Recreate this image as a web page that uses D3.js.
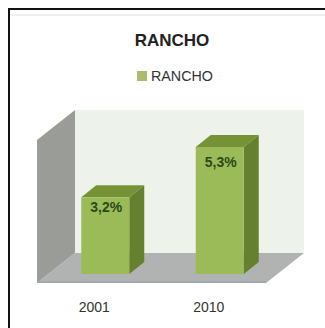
<!DOCTYPE html>
<html>
<head>
<meta charset="utf-8">
<script src="https://cdnjs.cloudflare.com/ajax/libs/d3/7.8.5/d3.min.js"></script>
<style>
  html, body { margin: 0; padding: 0; background: #fff; }
  svg { display: block; }
  text { font-family: "Liberation Sans", sans-serif; }
</style>
</head>
<body>
<svg id="chart" width="325" height="328"></svg>
<script>
const categories = ["2001", "2010"];
const values = [3.2, 5.3];
const valueLabels = ["3,2%", "5,3%"];
const seriesName = "RANCHO";
const chartTitle = "RANCHO";

const svg = d3.select("#chart");

// Chart frame: only the top and left rules are visible
svg.append("rect").attr("x", 0).attr("y", 0).attr("width", 325).attr("height", 328).attr("fill", "#fff");
svg.append("rect").attr("x", 8).attr("y", 8).attr("width", 317).attr("height", 2).attr("fill", "#111");
svg.append("rect").attr("x", 8).attr("y", 8).attr("width", 2).attr("height", 320).attr("fill", "#111");
svg.append("rect").attr("x", 10).attr("y", 14).attr("width", 315).attr("height", 2).attr("fill", "#eeeeee");

// 3D box layout
const floorFrontY = 283, floorBackY = 253, wallTopY = 110;
const depthX = 38, depthY = 30;
const barDepthX = 15, barDepthY = 12;
const barWidth = 48;
const barShift = 11;
const barBaseY = 274;
const labelDrop = [15, 20];

const x = d3.scaleBand().domain(categories).range([37, 266]);
const y = d3.scaleLinear().domain([0, 5.3]).range([barBaseY, 147]);

const poly = pts => pts.map(p => p.join(",")).join(" ");
const leftX = x.range()[0], rightX = x.range()[1];

// Back wall
svg.append("polygon")
  .attr("points", poly([[leftX + depthX, wallTopY], [rightX + depthX, wallTopY], [rightX + depthX, floorBackY], [leftX + depthX, floorBackY]]))
  .attr("fill", "#edf2ea");

// Side wall
svg.append("polygon")
  .attr("points", poly([[leftX, wallTopY + depthY], [leftX + depthX, wallTopY], [leftX + depthX, floorBackY], [leftX, floorFrontY]]))
  .attr("fill", "#9a9d97");

// Floor
svg.append("polygon")
  .attr("points", poly([[leftX + depthX, floorBackY], [rightX + depthX, floorBackY], [rightX, floorFrontY], [leftX, floorFrontY]]))
  .attr("fill", "#b0b3b1");
svg.append("rect")
  .attr("x", leftX).attr("y", floorFrontY - 2)
  .attr("width", rightX - leftX).attr("height", 2)
  .attr("fill", "#a3a8ad");

// Bars: front, side and top faces
const bars = svg.selectAll("g.bar")
  .data(categories.map((c, i) => ({ c, v: values[i], label: valueLabels[i], drop: labelDrop[i] })))
  .join("g").attr("class", "bar");
const frontX = d => x(d.c) + x.bandwidth() / 2 + barShift - barWidth / 2;

bars.append("polygon")
  .attr("points", d => poly([
    [frontX(d) + barWidth, y(d.v)],
    [frontX(d) + barWidth + barDepthX, y(d.v) - barDepthY],
    [frontX(d) + barWidth + barDepthX, barBaseY - barDepthY],
    [frontX(d) + barWidth, barBaseY]]))
  .attr("fill", "#65802f");
bars.append("polygon")
  .attr("points", d => poly([
    [frontX(d), y(d.v)],
    [frontX(d) + barDepthX, y(d.v) - barDepthY],
    [frontX(d) + barWidth + barDepthX, y(d.v) - barDepthY],
    [frontX(d) + barWidth, y(d.v)]]))
  .attr("fill", "#769235");
bars.append("rect")
  .attr("x", frontX).attr("y", d => y(d.v))
  .attr("width", barWidth).attr("height", d => barBaseY - y(d.v))
  .attr("fill", "#9bbb59");

bars.append("text")
  .attr("x", d => frontX(d) + barWidth / 2 + 1)
  .attr("y", d => y(d.v) + d.drop)
  .attr("text-anchor", "middle")
  .attr("font-size", 14).attr("font-weight", "bold")
  .attr("fill", "#2c4a17")
  .text(d => d.label);

// Category axis along the front edge of the floor
const axis = d3.axisBottom(x).tickSize(0).tickPadding(0);
const axisG = svg.append("g").attr("transform", "translate(0,302)").call(axis);
axisG.select(".domain").remove();
axisG.selectAll("text")
  .attr("font-size", 14).attr("fill", "#333")
  .style("font-family", '"Liberation Sans", sans-serif');

// Title and legend
svg.append("text").attr("x", 172).attr("y", 46)
  .attr("text-anchor", "middle").attr("font-size", 17).attr("font-weight", "bold")
  .attr("fill", "#222").text(chartTitle);
svg.append("rect").attr("x", 137).attr("y", 71).attr("width", 10).attr("height", 10).attr("fill", "#a9bd6d");
svg.append("text").attr("x", 151).attr("y", 81)
  .attr("font-size", 14.3).attr("fill", "#333").text(seriesName);
</script>
</body>
</html>
